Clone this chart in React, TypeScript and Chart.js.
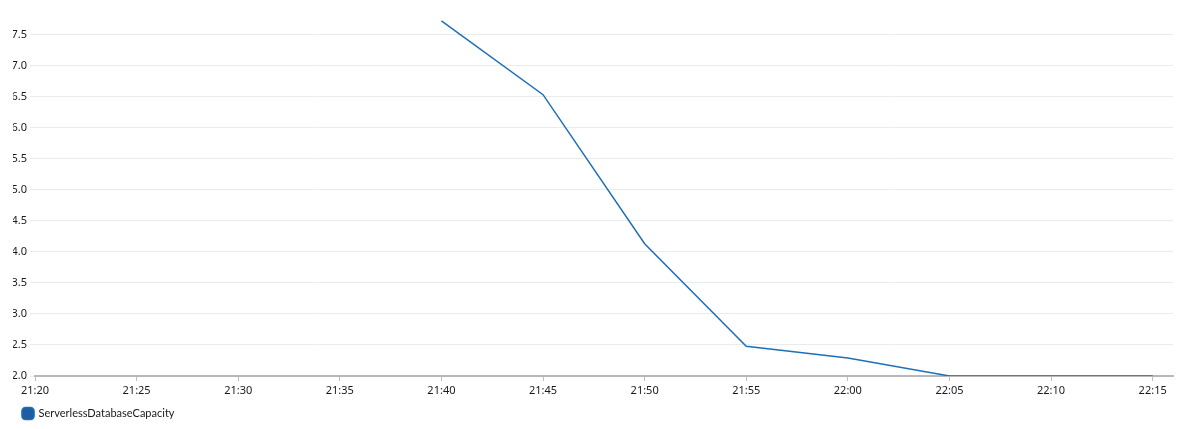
import { useEffect, useRef } from "react"
import { Chart, registerables } from "chart.js"

Chart.register(...registerables)

// minutes since midnight, one sample every 5 minutes
const minutes = [1300, 1305, 1310, 1315, 1320, 1325, 1330, 1335]
const capacity = [7.72, 6.53, 4.13, 2.48, 2.29, 2.0, 2.0, 2.0]
const seriesLabel = "ServerlessDatabaseCapacity"

const xMin = 1280
const xMax = 1336
const yMin = 2
const yMax = 7.9

const fmtTime = (m: number) => {
  const h = Math.floor(m / 60)
  const mm = m % 60
  return `${h}:${mm < 10 ? "0" + mm : mm}`
}

export default function App() {
  const canvasRef = useRef<HTMLCanvasElement>(null)
  const chartRef = useRef<Chart | null>(null)

  useEffect(() => {
    document.body.style.margin = "0"
    if (!canvasRef.current) return
    if (chartRef.current) chartRef.current.destroy()

    const ctx = canvasRef.current.getContext("2d")
    if (!ctx) return

    const font = { family: "'Noto Sans', sans-serif", size: 11 }

    chartRef.current = new Chart(ctx, {
      type: "line",
      data: {
        datasets: [
          {
            label: seriesLabel,
            data: minutes.map((m, i) => ({ x: m, y: capacity[i] })),
            borderColor: "#1f6fb8",
            backgroundColor: "#1b5ea3",
            borderWidth: 1.5,
            pointRadius: 0,
            tension: 0,
          },
        ],
      },
      options: {
        animation: false,
        responsive: false,
        maintainAspectRatio: false,
        layout: { padding: { left: 13, top: 5, right: 7, bottom: 0 } },
        plugins: {
          legend: {
            position: "bottom",
            align: "start",
            labels: {
              usePointStyle: true,
              pointStyle: "rectRounded",
              boxWidth: 10,
              boxHeight: 10,
              padding: 10,
              color: "#16191f",
              font: { family: "Lato, sans-serif", size: 11 },
            },
          },
          tooltip: { enabled: false },
        },
        scales: {
          x: {
            type: "linear",
            min: xMin,
            max: xMax,
            afterFit: (scale: any) => {
              scale.height = 22
            },
            ticks: {
              stepSize: 5,
              includeBounds: false,
              maxRotation: 0,
              autoSkip: false,
              color: "#16191f",
              font,
              padding: 3,
              callback: (v: any) => fmtTime(Number(v)),
            },
            grid: {
              drawOnChartArea: false,
              drawTicks: true,
              tickLength: 5,
              color: "#bdbdbd",
            },
            border: { display: true, color: "#b8b8b8", width: 2 },
          },
          y: {
            min: yMin,
            max: yMax,
            afterFit: (scale: any) => {
              scale.width = 22
            },
            ticks: {
              stepSize: 0.5,
              includeBounds: false,
              color: "#16191f",
              font,
              padding: 3,
              callback: (v: any) => Number(v).toFixed(1),
            },
            grid: {
              color: "#e9ebed",
              tickLength: 5,
            },
            border: { display: false },
          },
        },
      },
    })

    return () => {
      if (chartRef.current) {
        chartRef.current.destroy()
        chartRef.current = null
      }
    }
  }, [])

  return (
    <div style={{ width: 1180, height: 429 }}>
      <canvas ref={canvasRef} width={1180} height={429} style={{ display: "block" }} />
    </div>
  )
}
